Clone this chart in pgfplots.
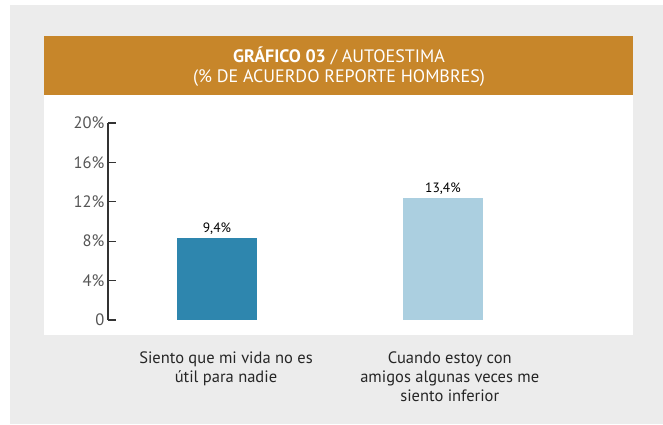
\documentclass[border=0pt]{standalone}
\usepackage{fontspec}
\setmainfont{PT Sans}
\usepackage{pgfplots}
\pgfplotsset{compat=1.18}
\definecolor{bg}{HTML}{ECECEC}
\definecolor{hdr}{HTML}{C7862A}
\definecolor{barA}{HTML}{2E86AE}
\definecolor{barB}{HTML}{ABCFE0}
\definecolor{tickc}{HTML}{555555}
\begin{document}
\begin{tikzpicture}[x=1pt,y=1pt]
\path[use as bounding box] (0,0) rectangle (663,424);
\fill[white] (0,0) rectangle (663,424);
\fill[bg] (10,0) rectangle (663,419);
\fill[white] (44,89) rectangle (633,329);
\fill[hdr] (44,329) rectangle (633,388);
\node[white, font=\fontsize{18}{21}\selectfont] at (339,368) {\textbf{GRÁFICO 03} / AUTOESTIMA};
\node[white, font=\fontsize{18}{21}\selectfont] at (339,346) {(\% DE ACUERDO REPORTE HOMBRES)};
\begin{axis}[
  at={(108pt,104pt)}, anchor=south west,
  scale only axis, width=448pt, height=197pt,
  xmin=-0.482, xmax=1.5, ymin=0, ymax=20,
  axis x line=none,
  axis y line*=left,
  y axis line style={draw=black!80, line width=1.2pt, -},
  ytick={0,4,8,12,16,20},
  yticklabels={0,4\%,8\%,12\%,16\%,20\%},
  ytick style={draw=black!80, line width=1.2pt},
  major tick length=8pt,
  tick align=inside,
  yticklabel style={font=\fontsize{16.5}{18}\selectfont, text=tickc},
  /pgf/number format/assume math mode=true,
  ybar, bar width=80pt, bar shift=0pt,
  point meta=explicit,
  nodes near coords={\pgfmathprintnumber[fixed,precision=1,fixed zerofill,use comma]{\pgfplotspointmeta}\%},
  nodes near coords style={font=\fontsize{13.5}{15}\selectfont, text=black, yshift=0pt},
  clip=false,
]
\addplot[fill=barA, draw=none] coordinates {(0,8.33) [9.4]};
\addplot[fill=barB, draw=none] coordinates {(1,12.4) [13.4]};
\node[align=center, anchor=north, font=\fontsize{16.5}{19}\selectfont, text=black!85] at (axis cs:0.04,-2.9) {Siento que mi vida no es\\útil para nadie};
\node[align=center, anchor=north, font=\fontsize{16.5}{19}\selectfont, text=black!85] at (axis cs:1.03,-2.9) {Cuando estoy con\\amigos algunas veces me\\siento inferior};
\end{axis}
\end{tikzpicture}
\end{document}
